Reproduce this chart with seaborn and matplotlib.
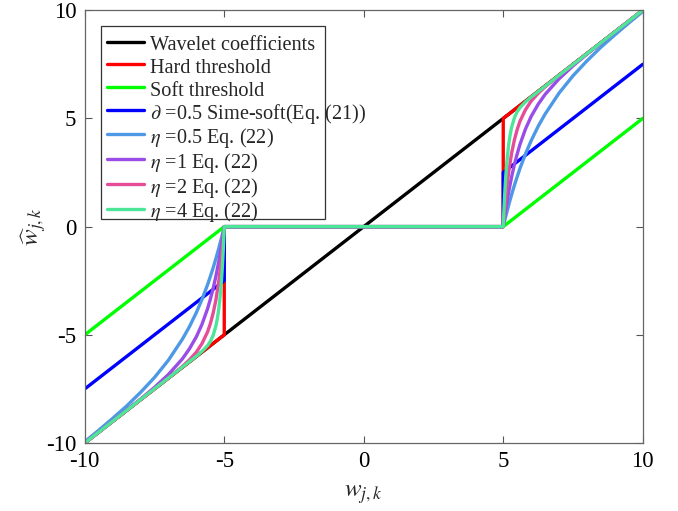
import matplotlib
matplotlib.use("Agg")
import matplotlib.pyplot as plt
from matplotlib.patches import Rectangle
import seaborn as sns
import pandas as pd

# ---- data ----
w_coef = [-10, 10]
v_coef = [-10, 10]
w_hard = [-10, -5, -5, 5, 5, 10]
v_hard = [-10, -5, 0, 0, 5, 10]
w_soft = [-10, -5, 5, 10]
v_soft = [-5, 0, 0, 5]
w_semi = [-10, -5, -5, 5, 5, 10]
v_semi = [-7.5, -2.5, 0, 0, 2.5, 7.5]

# positive branch (w >= 5) of the Eq. (22) curves; the chart is odd-symmetric
w_eta05 = [5, 5.1, 5.2, 5.3, 5.4, 5.5, 5.6, 5.8, 6.0, 6.25, 6.5, 7.0, 7.5, 8.0, 8.5, 9.0, 9.5, 10]
v_eta05 = [0, 0.53, 1.02, 1.48, 1.91, 2.31, 2.69, 3.37, 3.97, 4.63, 5.20, 6.17, 6.97, 7.66, 8.29, 8.86, 9.41, 9.94]
w_eta1 = [5, 5.05, 5.1, 5.15, 5.2, 5.3, 5.4, 5.5, 5.6, 5.8, 6.0, 6.25, 6.5, 7.0, 7.5, 8.0, 9.0, 10]
v_eta1 = [0, 0.46, 0.88, 1.28, 1.64, 2.30, 2.87, 3.36, 3.80, 4.52, 5.09, 5.65, 6.11, 6.83, 7.43, 7.97, 8.99, 10]
w_eta2 = [5, 5.025, 5.05, 5.1, 5.15, 5.2, 5.3, 5.4, 5.5, 5.6, 5.8, 6.0, 6.25, 6.5, 7.0, 10]
v_eta2 = [0, 0.41, 0.79, 1.47, 2.06, 2.56, 3.39, 4.01, 4.49, 4.87, 5.41, 5.80, 6.16, 6.46, 6.99, 10]
w_eta4 = [5, 5.0125, 5.025, 5.05, 5.075, 5.1, 5.15, 5.2, 5.25, 5.3, 5.4, 5.5, 5.6, 5.8, 6.0, 10]
v_eta4 = [0, 0.40, 0.78, 1.44, 2.00, 2.49, 3.26, 3.84, 4.27, 4.59, 5.03, 5.31, 5.50, 5.77, 5.99, 10]

labels = [
    "Wavelet coefficients",
    "Hard threshold",
    "Soft threshold",
    r"$\partial$ =0.5 Sime-soft(Eq. (21))",
    r"$\eta$ =0.5 Eq. (22)",
    r"$\eta$ =1 Eq. (22)",
    r"$\eta$ =2 Eq. (22)",
    r"$\eta$ =4 Eq. (22)",
]
colors = ["#000000", "#FF0000", "#00FF00", "#0000FF",
          "#4D99E6", "#994DE6", "#E64D99", "#4DE699"]
xticks = [-10, -5, 0, 5, 10]
yticks = [-10, -5, 0, 5, 10]


def odd(wp, vp):
    x = [-a for a in reversed(wp)] + list(wp)
    y = [-b for b in reversed(vp)] + list(vp)
    return x, y


series = [
    (w_coef, v_coef), (w_hard, v_hard), (w_soft, v_soft), (w_semi, v_semi),
    odd(w_eta05, v_eta05), odd(w_eta1, v_eta1), odd(w_eta2, v_eta2), odd(w_eta4, v_eta4),
]

sns.set_theme(style="white")
plt.rcParams["font.family"] = ["Liberation Serif", "DejaVu Serif"]
plt.rcParams["mathtext.fontset"] = "stix"
plt.rcParams["axes.unicode_minus"] = False

fig = plt.figure(figsize=(6.78, 5.11), dpi=100)
ax = fig.add_axes([0.125, 0.133, 0.823, 0.847])

for (x, y), lab, col in zip(series, labels, colors):
    df = pd.DataFrame({"w": x, "v": y})
    sns.lineplot(data=df, x="w", y="v", ax=ax, color=col, label=lab,
                 estimator=None, sort=False, linewidth=2.4)

ax.set_xlim(-10, 10)
ax.set_ylim(-10, 10)
ax.set_xticks(xticks)
ax.set_yticks(yticks)
ax.set_xticklabels([str(t) for t in xticks])
ax.set_yticklabels([str(t) for t in yticks])
ax.tick_params(direction="in", length=5, width=0.8, colors="#555555",
               labelcolor="black", labelsize=16.5, top=True, right=True,
               bottom=True, left=True, pad=6)
for s in ax.spines.values():
    s.set_color("#666666")
    s.set_linewidth(0.9)
ax.grid(False)

ax.set_xlabel(r"$w_{j,k}$", fontsize=18, labelpad=8)
ax.set_ylabel(r"$\widehat{w}_{j,k}$", fontsize=18, labelpad=-2)

# legend box (narrower than the longest label, as in the original figure)
box = Rectangle((0.0287, 0.5176), 0.4013, 0.4459, transform=ax.transAxes,
                facecolor="white", edgecolor="#333333", linewidth=0.9, zorder=5)
ax.add_patch(box)
leg = ax.legend(loc="upper left", bbox_to_anchor=(0.0287, 0.9635),
                fontsize=14.6, frameon=False, borderaxespad=0.0,
                labelspacing=0.0, handleheight=1.28, handlelength=1.8,
                handletextpad=0.3, borderpad=0.33)
leg.set_zorder(6)

fig.savefig("out.png", dpi=100)
